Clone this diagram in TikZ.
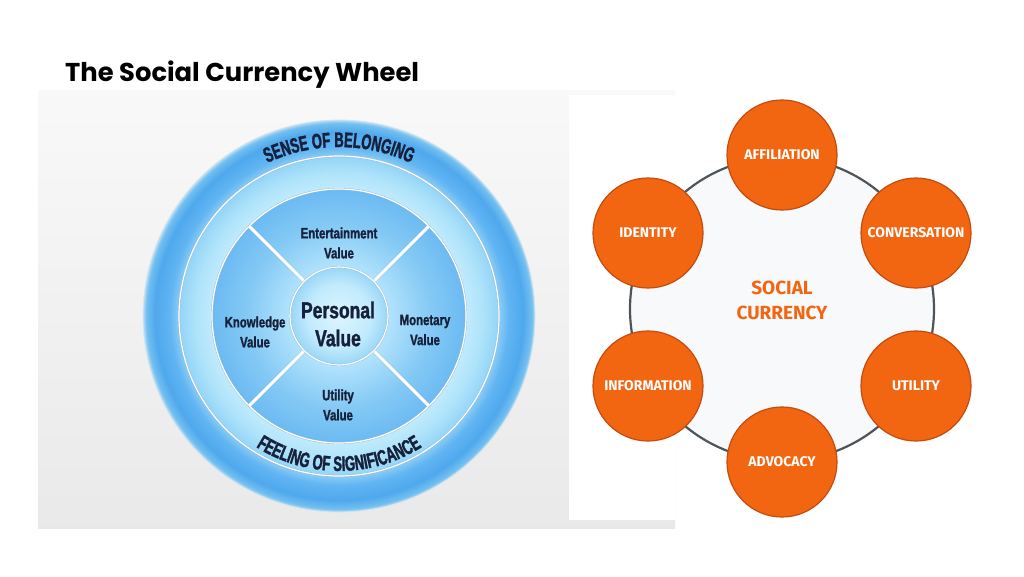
\documentclass[tikz,border=0pt]{standalone}
\usepackage{fontspec}
\usepackage{tikz}
\usetikzlibrary{decorations.text}

\newfontfamily\titlefont{Poppins}
\newfontfamily\ringfont[FakeStretch=0.62, FakeBold=1.6]{Liberation Sans Bold}
\newfontfamily\valfont[FakeStretch=0.76, FakeBold=1.4]{Liberation Sans Bold}
\newfontfamily\hubfont{Fira Sans}
\newcommand{\ringstyle}{\ringfont\fontsize{21}{21}\selectfont}

\definecolor{navy}{RGB}{22,32,58}
\definecolor{hubfill}{RGB}{242,101,17}
\definecolor{hubrim}{RGB}{196,76,14}
\definecolor{ringgray}{RGB}{78,84,90}
\definecolor{ringfill}{RGB}{248,249,250}
\definecolor{rimline}{RGB}{150,188,210}

\pgfdeclareradialshading{outerband}{\pgfpoint{0bp}{0bp}}{rgb(0bp)=(0.55,0.80,0.96); rgb(20.4bp)=(0.55,0.80,0.96); rgb(21.6bp)=(0.38,0.71,0.95); rgb(23.5bp)=(0.31,0.66,0.93); rgb(24.6bp)=(0.45,0.75,0.94); rgb(25bp)=(0.72,0.87,0.96); rgb(50bp)=(0.72,0.87,0.96)}
\pgfdeclareradialshading{lightband}{\pgfpoint{0bp}{0bp}}{rgb(0bp)=(0.76,0.92,0.99); rgb(19.8bp)=(0.76,0.92,0.99); rgb(22.5bp)=(0.68,0.89,0.98); rgb(25bp)=(0.58,0.83,0.97); rgb(50bp)=(0.58,0.83,0.97)}
\pgfdeclareradialshading{quadband}{\pgfpoint{0bp}{0bp}}{rgb(0bp)=(0.74,0.91,0.99); rgb(9.6bp)=(0.70,0.89,0.99); rgb(18bp)=(0.52,0.79,0.96); rgb(25bp)=(0.42,0.73,0.95); rgb(50bp)=(0.42,0.73,0.95)}
\pgfdeclareradialshading{coreband}{\pgfpoint{0bp}{0bp}}{rgb(0bp)=(0.86,0.96,1.0); rgb(16bp)=(0.76,0.92,0.99); rgb(25bp)=(0.60,0.84,0.97); rgb(50bp)=(0.60,0.84,0.97)}

\begin{document}
\begin{tikzpicture}[x=1pt, y=1pt,
        rim/.style={draw=rimline, line width=0.4pt, double=white, double distance=1.2pt},
        sep/.style={draw=rimline, line width=0.4pt, double=white, double distance=3pt},
        hub/.style={circle, fill=hubfill, draw=hubrim, line width=1.2pt, minimum size=110pt, inner sep=0pt, text=white, font=\hubfont\bfseries\fontsize{14}{14}\selectfont}]
        \useasboundingbox (0,0) rectangle (1024,-576);
        \node [anchor=base west, inner sep=0pt, font=\titlefont\bfseries\fontsize{25.8}{26}\selectfont] (T) at (65,-81) {The Social Currency Wheel};
        \shade [top color=gray!5, bottom color=gray!17] (38,-90) rectangle (675,-528);
        \fill [white] (569,-95) rectangle (675,-520);

        \coordinate (W) at (339,-316);
        \shade [shading=outerband] (W) circle [radius=196];
        \draw [draw=white!60!rimline, line width=0.8pt] (W) circle [radius=196];
        \shade [shading=lightband] (W) circle [radius=160];
        \draw [rim] (W) circle [radius=160];
        \shade [shading=quadband] (W) circle [radius=127];
        \draw [rim] (W) circle [radius=127];
        \draw [sep] ([shift={(45:49)}]W) -- ([shift={(45:127)}]W);
        \draw [sep] ([shift={(135:49)}]W) -- ([shift={(135:127)}]W);
        \draw [sep] ([shift={(225:49)}]W) -- ([shift={(225:127)}]W);
        \draw [sep] ([shift={(315:49)}]W) -- ([shift={(315:127)}]W);
        \shade [shading=coreband] (W) circle [radius=49];
        \draw [rim] (W) circle [radius=49];

        \path [decorate, decoration={text along path, text align=center, text color=navy, text={|\ringstyle|SENSE OF BELONGING}}] ([shift={(118:169)}]W) arc [start angle=118, end angle=62, radius=169];
        \path [decorate, decoration={text along path, text align=center, text color=navy, text={|\ringstyle|FEELING OF SIGNIFICANCE}}] ([shift={(230:155)}]W) arc [start angle=230, end angle=310, radius=155];

        \begin{scope}[every node/.style={align=center, text=navy, font=\valfont\fontsize{15}{20}\selectfont}]
                \node (En) at (339,-243) {Entertainment\\Value};
                \node (Kn) at (255,-332) {Knowledge\\Value};
                \node (Mo) at (425,-330) {Monetary\\Value};
                \node (Uv) at (338,-405) {Utility\\Value};
                \node [font=\valfont\fontsize{23}{28}\selectfont] (PV) at (338,-324) {Personal\\Value};
        \end{scope}

        \coordinate (C) at (782,-309);
        \draw [draw=ringgray, fill=ringfill, line width=2.2pt] (C) circle [radius=152];
        \node [align=center, text=hubfill, font=\hubfont\bfseries\fontsize{19}{25}\selectfont] (SC) at (782,-300) {SOCIAL\\CURRENCY};
        \begin{scope}[every node/.style={hub}]
                \node (Af) at (782,-155) {AFFILIATION};
                \node (Co) at (916,-233) {CONVERSATION};
                \node (Ut) at (916,-386) {UTILITY};
                \node (Ad) at (782,-462) {ADVOCACY};
                \node (In) at (648,-386) {INFORMATION};
                \node (Id) at (648,-233) {IDENTITY};
        \end{scope}
\end{tikzpicture}
\end{document}
